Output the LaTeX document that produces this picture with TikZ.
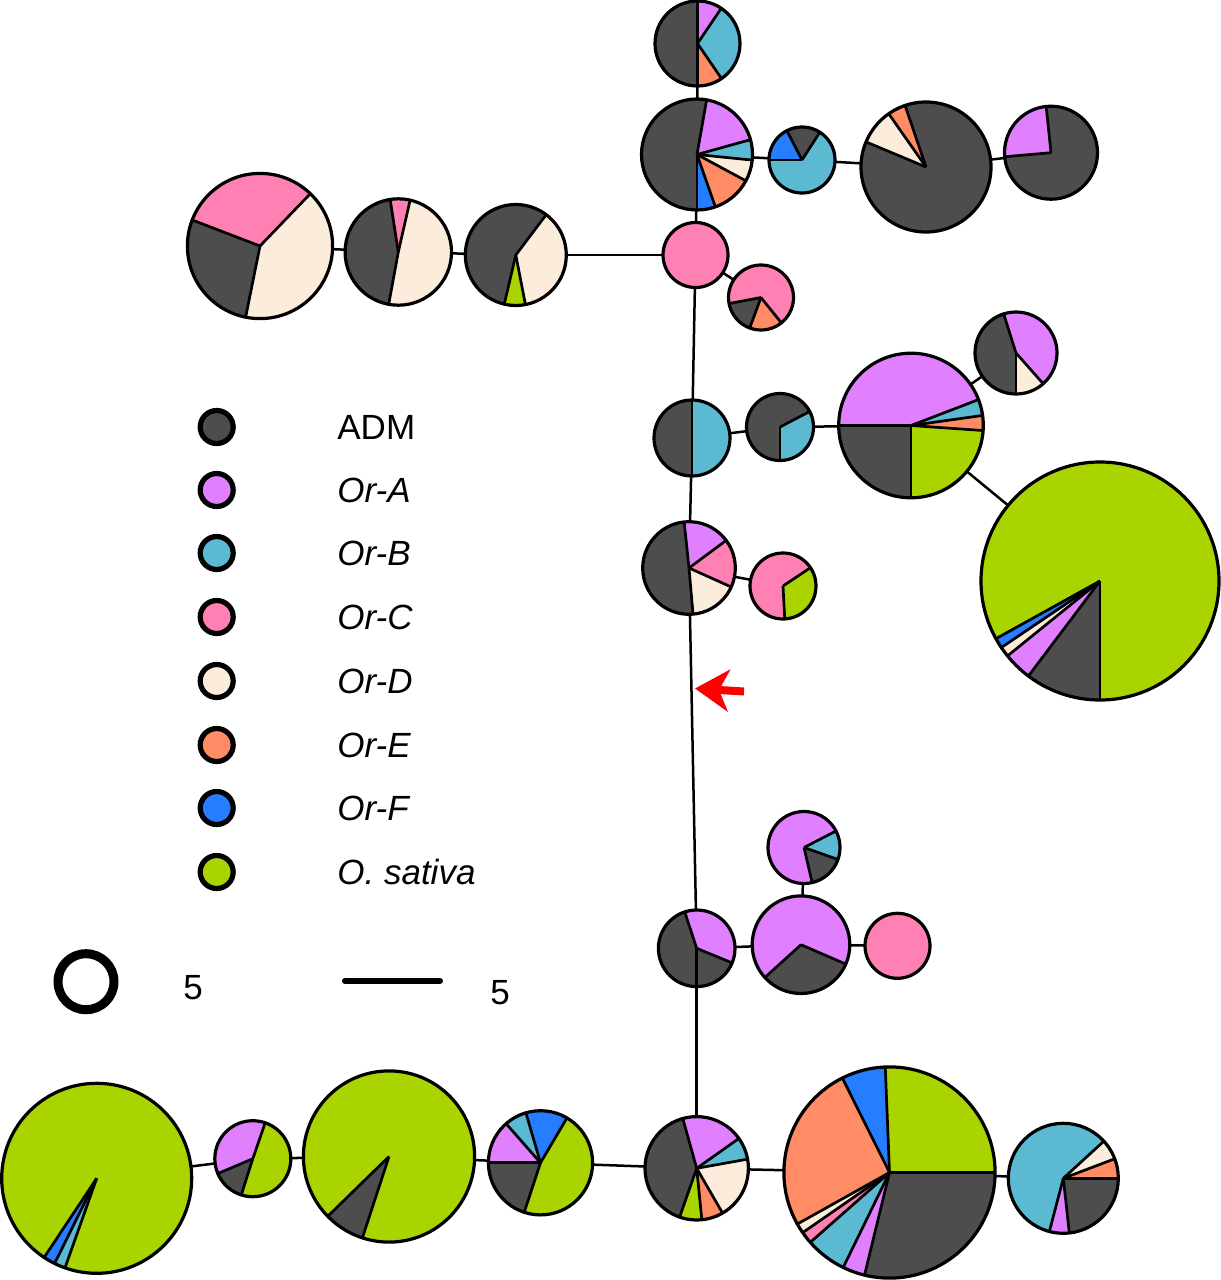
\documentclass[tikz,border=0pt]{standalone}
\usepackage{fontspec}
\setmainfont{Liberation Sans}
\usetikzlibrary{arrows.meta}
\definecolor{cADM}{RGB}{77,77,77}
\definecolor{cA}{RGB}{224,128,255}
\definecolor{cB}{RGB}{92,185,210}
\definecolor{cC}{RGB}{255,128,178}
\definecolor{cD}{RGB}{252,236,220}
\definecolor{cE}{RGB}{255,140,100}
\definecolor{cF}{RGB}{38,125,255}
\definecolor{cS}{RGB}{170,212,0}
\tikzset{
  pienode/.style={circle, inner sep=0pt, outer sep=0pt},
  sliceline/.style={line width=1.35pt, black, line join=round},
  pieline/.style={line width=1.6pt, black},
  edgeline/.style={line width=1.25pt, black},
  legcirc/.style={circle, draw=black, line width=2.6pt, minimum size=16.5pt, inner sep=0pt},
  legtext/.style={font=\fontsize{17.5pt}{20pt}\selectfont, inner sep=0pt, anchor=base west},
  scaletext/.style={font=\fontsize{17.5pt}{20pt}\selectfont, inner sep=0pt, anchor=base},
}
\newcommand\piechart[5]{%
  \node[pienode, minimum size=#4pt] (#1) at (#2,#3) {};
  \foreach \pa/\pb/\pc in {#5}{\fill[\pc] (#2,#3) -- ++(\pa:#4) arc[start angle=\pa, end angle=\pb, radius=#4] -- cycle;}
  \foreach \pa/\pb/\pc in {#5}{\draw[sliceline] (#2,#3) -- ++(\pa:#4);}
  \draw[pieline] (#2,#3) circle[radius=#4];
}
\newcommand\fullpie[5]{%
  \node[pienode, minimum size=#4pt] (#1) at (#2,#3) {};
  \draw[pieline, fill=#5] (#2,#3) circle[radius=#4];
}
\begin{document}
\begin{tikzpicture}[x=0.5pt, y=-0.5pt]
\useasboundingbox (0,0) rectangle (1221,1280);
% ---------- pies ----------
\piechart{P1}{697.5}{43.5}{42.5}{90/270/cADM, 270/304/cA, 304/415.6/cB, 415.6/450/cE}
\piechart{P2}{697}{154.5}{55.5}{90/280/cADM, 280/344.5/cA, 344.5/365.8/cB, 365.8/388.3/cD, 388.3/430.7/cE, 430.7/450/cF}
\piechart{P3}{802}{160}{33}{180/242.7/cF, 242.7/302.7/cADM, 302.7/540/cB}
\piechart{P4}{926}{167}{65}{202.7/235/cD, 235/251.2/cE, 251.2/562.7/cADM}
\piechart{P5}{1051}{152.7}{46.5}{175/264/cA, 264/535/cADM}
\fullpie{P6}{695.5}{255}{32.5}{cC}
\piechart{P7}{761}{297.5}{32.5}{51.3/110.3/cE, 110.3/169.3/cADM, 169.3/411.3/cC}
\piechart{L1}{260}{246}{72.6}{201/313.9/cC, 313.9/461.4/cD, 101.4/201/cADM}
\piechart{L2}{398.3}{252}{53.2}{261.2/282.8/cC, 282.8/460.4/cD, 100.4/261.2/cADM}
\piechart{L3}{515.8}{255}{50.5}{307/439/cD, 79/103.2/cS, 103.2/307/cADM}
\piechart{M1}{692}{438}{38}{90/270/cADM, 270/450/cB}
\piechart{M2}{780}{427}{33.5}{90/332.4/cADM, 332.4/450/cB}
\piechart{M3}{911}{425.5}{72.3}{180/339/cA, 339/352/cB, 352/364/cE, 4/90/cS, 90/180/cADM}
\piechart{M4}{1016}{353}{41}{252.5/408.5/cA, 48.5/90/cD, 90/252.5/cADM}
\piechart{G}{1100}{581}{119}{90/127/cADM, 127/141/cA, 141/146/cD, 146/151/cF, 151/450/cS}
\piechart{N1}{689}{568}{46.3}{85/264/cADM, 264/323.4/cA, 323.4/384.2/cC, 24.2/85/cD}
\piechart{N2}{783}{586}{33}{87/326.3/cC, 326.3/447/cS}
\piechart{Q1}{696.7}{948.3}{38.3}{22.4/251.8/cADM, 251.8/382.4/cA}
\piechart{Q2}{804}{847.5}{36}{77/332.7/cA, 332.7/379.4/cB, 19.4/77/cADM}
\piechart{Q3}{801}{944.7}{48.8}{23.4/137.8/cADM, 137.8/383.4/cA}
\fullpie{Q4}{897.5}{945.8}{32.5}{cC}
\piechart{B1}{96.7}{1178.3}{95}{109.5/116.3/cB, 116.3/123.6/cF, 123.6/469.5/cS}
\piechart{B2}{252.8}{1158.7}{38}{157/289/cA, 107.6/157/cADM, 289/467.6/cS}
\piechart{B3}{389}{1156.5}{85.6}{108.1/135.7/cADM, 135.7/468.1/cS}
\piechart{B4}{540.5}{1162.8}{52.1}{180/228.7/cA, 228.7/253.7/cB, 253.7/300.5/cF, 300.5/468.2/cS, 108.2/180/cADM}
\piechart{B5}{696.7}{1168.3}{51.7}{109.3/254.4/cADM, 254.4/324.7/cA, 324.7/349.8/cB, 349.8/420/cD, 60/84.3/cE, 84.3/109.3/cS}
\piechart{B6}{889.5}{1172.5}{105.6}{267.7/360/cS, 0/103.7/cADM, 103.7/116/cA, 116/138.6/cB, 138.6/145.3/cC, 145.3/150.8/cD, 150.8/243.5/cE, 243.5/267.7/cF}
\piechart{B7}{1063.3}{1178.3}{55}{0/83.7/cADM, 83.7/104.7/cA, 104.7/317.5/cB, 317.5/339.2/cD, 339.2/360/cE}
% ---------- edges ----------
\draw[edgeline] (P1) -- (P2);
\draw[edgeline] (P2) -- (P6);
\draw[edgeline] (P2) -- (P3);
\draw[edgeline] (P3) -- (P4);
\draw[edgeline] (P4) -- (P5);
\draw[edgeline] (P6) -- (P7);
\draw[edgeline] (P6) -- (L3);
\draw[edgeline] (L3) -- (L2);
\draw[edgeline] (L2) -- (L1);
\draw[edgeline] (P6) -- (M1);
\draw[edgeline] (M1) -- (M2);
\draw[edgeline] (M2) -- (M3);
\draw[edgeline] (M3) -- (M4);
\draw[edgeline] (M3) -- (G);
\draw[edgeline] (M1) -- (N1);
\draw[edgeline] (N1) -- (N2);
\draw[edgeline] (N1) -- (Q1);
\draw[edgeline] (Q1) -- (Q3);
\draw[edgeline] (Q3) -- (Q2);
\draw[edgeline] (Q3) -- (Q4);
\draw[edgeline] (Q1.center) -- (B5);
\draw[edgeline] (B5) -- (B4);
\draw[edgeline] (B4) -- (B3);
\draw[edgeline] (B3) -- (B2);
\draw[edgeline] (B2) -- (B1);
\draw[edgeline] (B5) -- (B6);
\draw[edgeline] (B6) -- (B7);
% ---------- red arrow ----------
\coordinate (arrtail) at (744,691.5);
\coordinate (arrtip) at (695,688.5);
\draw[red, line width=4pt, -{Stealth[length=17pt, width=21pt, inset=5pt]}] (arrtail) -- (arrtip);
% ---------- legend ----------
\node[legcirc, fill=cADM] (kADM) at (216.7,427) {};
\node[legcirc, fill=cA] (kA) at (216.7,490) {};
\node[legcirc, fill=cB] (kB) at (216.7,553) {};
\node[legcirc, fill=cC] (kC) at (216.7,617) {};
\node[legcirc, fill=cD] (kD) at (216.7,681) {};
\node[legcirc, fill=cE] (kE) at (216.7,745) {};
\node[legcirc, fill=cF] (kF) at (216.7,808) {};
\node[legcirc, fill=cS] (kS) at (216.7,872) {};
\node[legtext] (tADM) at (337,439.4) {ADM};
\node[legtext] (tA) at (337,502.4) {\itshape Or-A};
\node[legtext] (tB) at (337,565.4) {\itshape Or-B};
\node[legtext] (tC) at (337,629.4) {\itshape Or-C};
\node[legtext] (tD) at (337,693.4) {\itshape Or-D};
\node[legtext] (tE) at (337,757.4) {\itshape Or-E};
\node[legtext] (tF) at (337,820.4) {\itshape Or-F};
\node[legtext] (tS) at (337,884.4) {\itshape O. sativa};
% ---------- scale ----------
\node[circle, draw=black, line width=4.5pt, minimum size=28pt, inner sep=0pt] (ring) at (86,981.7) {};
\node[scaletext] (ringlab) at (193,999) {5};
\coordinate (sl1) at (345,980.7);
\coordinate (sl2) at (440,980.7);
\draw[line width=3pt, line cap=round] (sl1) -- (sl2);
\node[scaletext] (linelab) at (500,1004) {5};
\end{tikzpicture}
\end{document}
